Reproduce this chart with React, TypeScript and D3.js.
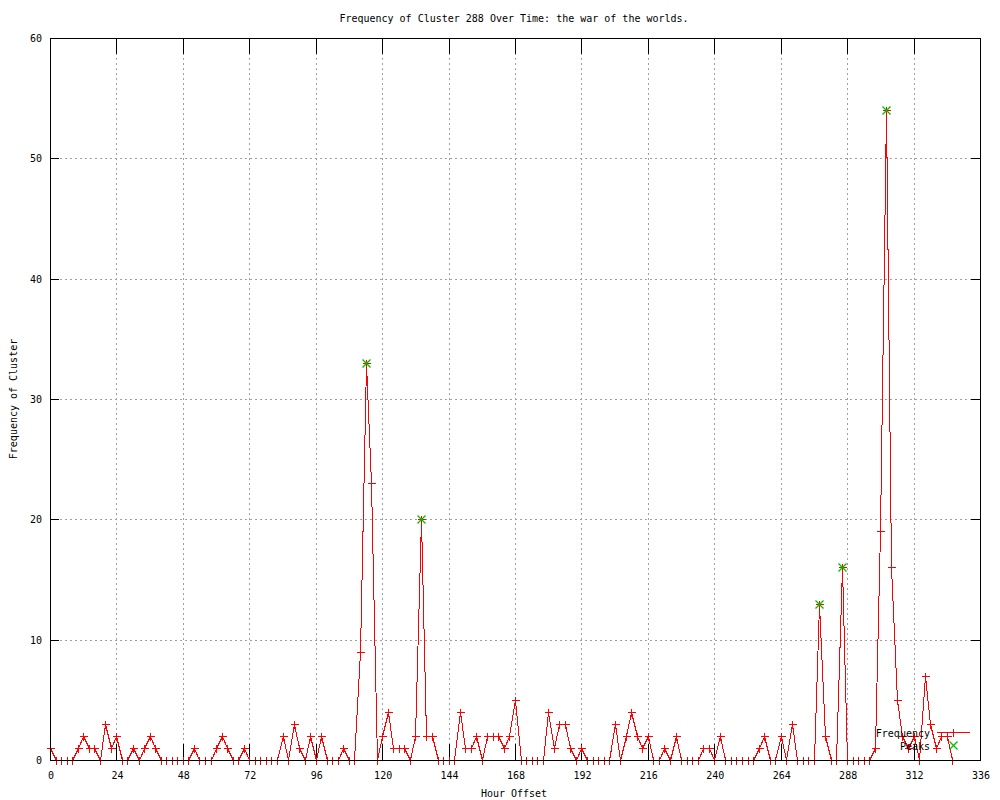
import React from "react";
import * as d3 from "d3";

const TITLE = "Frequency of Cluster 288 Over Time: the war of the worlds.";
const X_LABEL = "Hour Offset";
const Y_LABEL = "Frequency of Cluster";
const START_HOUR = 0;
const STEP_HOURS = 2;
const frequency = [
  1, 0, 0, 0, 0, 1, 2, 1, 1, 0,
  3, 1, 2, 0, 0, 1, 0, 1, 2, 1,
  0, 0, 0, 0, 0, 0, 1, 0, 0, 0,
  1, 2, 1, 0, 0, 1, 0, 0, 0, 0,
  0, 0, 2, 0, 3, 1, 0, 2, 0, 2,
  0, 0, 0, 1, 0, 0, 9, 33, 23, 0,
  2, 4, 1, 1, 1, 0, 2, 20, 2, 2,
  0, 0, 0, 0, 4, 1, 1, 2, 0, 2,
  2, 2, 1, 2, 5, 0, 0, 0, 0, 0,
  4, 1, 3, 3, 1, 0, 1, 0, 0, 0,
  0, 0, 3, 0, 2, 4, 2, 1, 2, 0,
  0, 1, 0, 2, 0, 0, 0, 0, 1, 1,
  0, 2, 0, 0, 0, 0, 0, 0, 1, 2,
  0, 0, 2, 0, 3, 0, 0, 0, 0, 13,
  2, 0, 0, 16, 0, 0, 0, 0, 0, 1,
  19, 54, 16, 5, 2, 1, 2, 0, 7, 3,
  1, 2, 2, 0,
];
const peakHours = [114, 134, 278, 286, 302];
const peakValues = [33, 20, 13, 16, 54];
const xTicks = [0, 24, 48, 72, 96, 120, 144, 168, 192, 216, 240, 264, 288, 312, 336];
const yTicks = [0, 10, 20, 30, 40, 50, 60];
const legendNames = ["Frequency", "Peaks"];

const W = 1000, H = 800;
const L = 50, R = 980, T = 38, B = 760;
const FONT = "'DejaVu Sans Mono', monospace";
const RED = "#ff0000";
const GREEN = "#00c000";

export default function App() {
  const x = d3.scaleLinear().domain([0, 336]).range([L, R]);
  const y = d3.scaleLinear().domain([0, 60]).range([B, T]);
  const pts: [number, number][] = frequency.map((v, i) => [START_HOUR + i * STEP_HOURS, v]);
  const line = d3.line<[number, number]>().x((d) => Math.round(x(d[0])) + 0.5).y((d) => Math.round(y(d[1])) + 0.5);
  const peaks = peakHours.map((h, i) => [h, peakValues[i]] as [number, number]);
  const s = 4;
  const xTickLen = 16;
  const yTickLen = 9;
  const rx = (v: number) => Math.round(x(v)) + 0.5;
  const ry = (v: number) => Math.round(y(v)) + 0.5;

  const plus = (cx: number, cy: number, color: string, key: string) => (
    <path key={key} d={`M${cx - s},${cy}H${cx + s}M${cx},${cy - s}V${cy + s}`} stroke={color} strokeWidth={1} fill="none" shapeRendering="crispEdges" />
  );
  const cross = (cx: number, cy: number, color: string, key: string) => (
    <path key={key} d={`M${cx - s},${cy - s}L${cx + s},${cy + s}M${cx - s},${cy + s}L${cx + s},${cy - s}`} stroke={color} strokeWidth={1.3} fill="none" />
  );

  return (
    <svg width={W} height={H} style={{ position: "absolute", left: 0, top: 0, background: "#fff" }} fontFamily={FONT} fontSize={10}>
      <rect x={0} y={0} width={W} height={H} fill="#fff" />
      {/* grid */}
      <g stroke="#a0a0a0" strokeWidth={1} strokeDasharray="2,3" shapeRendering="crispEdges">
        {xTicks.slice(1, -1).map((t) => (
          <line key={"gx" + t} x1={rx(t)} x2={rx(t)} y1={T} y2={B} />
        ))}
        {yTicks.slice(1, -1).map((t) => (
          <line key={"gy" + t} x1={L} x2={R} y1={ry(t)} y2={ry(t)} />
        ))}
      </g>
      {/* ticks */}
      <g stroke="#000" strokeWidth={1} shapeRendering="crispEdges">
        {xTicks.map((t) => (
          <g key={"tx" + t}>
            <line x1={rx(t)} x2={rx(t)} y1={B} y2={B - xTickLen} />
            <line x1={rx(t)} x2={rx(t)} y1={T} y2={T + xTickLen} />
          </g>
        ))}
        {yTicks.map((t) => (
          <g key={"ty" + t}>
            <line x1={L} x2={L + yTickLen} y1={ry(t)} y2={ry(t)} />
            <line x1={R} x2={R - yTickLen} y1={ry(t)} y2={ry(t)} />
          </g>
        ))}
      </g>
      {/* tick labels */}
      {xTicks.map((t) => (
        <text key={"lx" + t} x={x(t) + 1} y={779} textAnchor="middle" fill="#000">{t}</text>
      ))}
      {yTicks.map((t) => (
        <text key={"ly" + t} x={42} y={y(t) + 4} textAnchor="end" fill="#000">{t}</text>
      ))}
      {/* data */}
      <path d={line(pts) || ""} fill="none" stroke={RED} strokeWidth={1} shapeRendering="crispEdges" />
      {pts.map((p, i) => plus(rx(p[0]), ry(p[1]), RED, "p" + i))}
      {peaks.map((p, i) => cross(rx(p[0]), ry(p[1]), GREEN, "k" + i))}
      {/* frame */}
      <rect x={L + 0.5} y={T + 0.5} width={R - L} height={B - T} fill="none" stroke="#000" strokeWidth={1} shapeRendering="crispEdges" />
      {/* legend */}
      <text x={930} y={737} textAnchor="end" fill="#000">{legendNames[0]}</text>
      <line x1={937} x2={970} y1={732.5} y2={732.5} stroke={RED} strokeWidth={1} shapeRendering="crispEdges" />
      {plus(953.5, 732.5, RED, "lg1")}
      <text x={930} y={750} textAnchor="end" fill="#000">{legendNames[1]}</text>
      {cross(953.5, 745.5, GREEN, "lg2")}
      {/* titles */}
      <text x={514} y={22} textAnchor="middle" fill="#000">{TITLE}</text>
      <text x={514} y={797} textAnchor="middle" fill="#000">{X_LABEL}</text>
      <text transform={`translate(17,399) rotate(-90)`} textAnchor="middle" fill="#000">{Y_LABEL}</text>
    </svg>
  );
}
